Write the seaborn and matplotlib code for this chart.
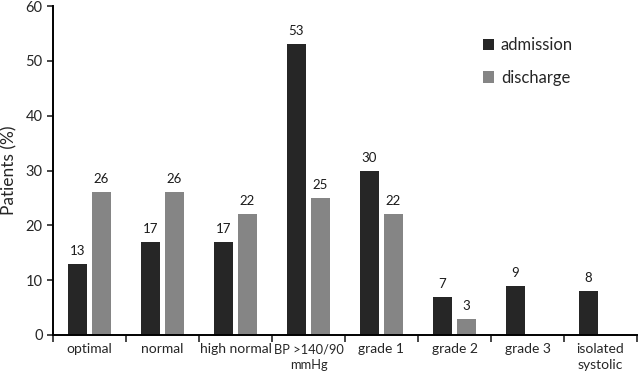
import numpy as np
import pandas as pd
import matplotlib
matplotlib.use("Agg")
import matplotlib.pyplot as plt
import seaborn as sns

categories = ["optimal", "normal", "high normal", "BP >140/90\nmmHg",
              "grade 1", "grade 2", "grade 3", "isolated\nsystolic"]
admission = [13, 17, 17, 53, 30, 7, 9, 8]
discharge = [26, 26, 22, 25, 22, 3, np.nan, np.nan]
series = ["admission", "discharge"]

df = pd.DataFrame({
    "category": categories * 2,
    "value": admission + discharge,
    "series": [series[0]] * len(categories) + [series[1]] * len(categories),
})

sns.set_style("white")
plt.rcParams["font.family"] = ["Lato", "DejaVu Sans"]

fig = plt.figure(figsize=(6.38, 3.81), dpi=100)
ax = fig.add_axes([53 / 638, 46 / 381, 584 / 638, 329 / 381])

sns.barplot(data=df, x="category", y="value", hue="series", order=categories,
            palette=["#262626", "#858585"], width=0.66, gap=0.18,
            saturation=1, linewidth=0, ax=ax, legend=True)

# value labels above each drawn bar
for cont in ax.containers:
    for bar in cont:
        if bar is None or np.isnan(bar.get_height()):
            continue
        ax.annotate(f"{int(round(bar.get_height()))}",
                    (bar.get_x() + bar.get_width() / 2, bar.get_height()),
                    xytext=(0, 5), textcoords="offset points",
                    ha="center", va="bottom", fontsize=9.5, color="#1a1a1a")

ax.set_ylim(0, 60)
ax.set_xlim(-0.5, len(categories) - 0.5)
ax.set_yticks(range(0, 61, 10))
ax.set_xlabel("")
ax.set_ylabel("Patients (%)", fontsize=12.5, labelpad=6)

ax.tick_params(axis="x", which="major", length=0, pad=6, labelsize=10)
for lbl in ax.get_xticklabels():
    lbl.set_linespacing(1.4)
    if lbl.get_text().startswith("BP"):
        lbl.set_fontsize(9.3)
ax.set_xticks(np.arange(-0.5, len(categories), 1), minor=True)
ax.tick_params(axis="x", which="minor", length=5, width=1.2, direction="out", bottom=True)
ax.tick_params(axis="y", length=4, width=1.2, direction="out", left=True, labelsize=10.5)

for s in ["top", "right"]:
    ax.spines[s].set_visible(False)
for s in ["left", "bottom"]:
    ax.spines[s].set_color("black")
    ax.spines[s].set_linewidth(1.4)

ax.legend(title=None, frameon=False, fontsize=12, loc="upper left",
          bbox_to_anchor=(0.71, 0.95), handlelength=0.7, handleheight=0.7,
          handletextpad=0.4, labelspacing=1.0)

fig.savefig("out.png", dpi=100)
